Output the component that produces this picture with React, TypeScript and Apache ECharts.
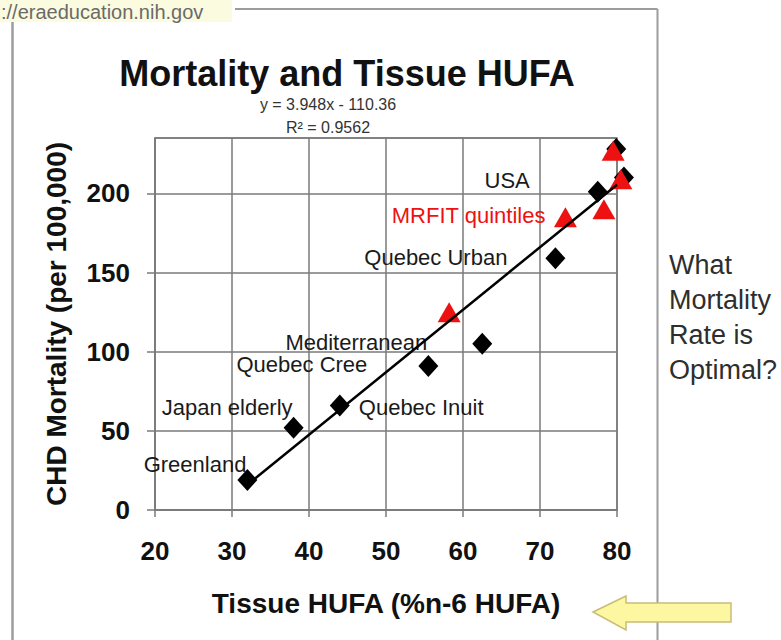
import React, { useEffect, useRef } from "react";
import * as echarts from "echarts";

// ---------- data ----------
const populationNames = [
  "Greenland",
  "Japan elderly",
  "Quebec Inuit",
  "Quebec Cree",
  "Mediterranean",
  "Quebec Urban",
  "USA",
  "",
  "",
];
const populationHufa = [32, 38, 44, 55.5, 62.5, 72, 77.5, 79.9, 80.9];
const populationMortality = [19, 52, 66, 91, 105, 159, 201, 228, 210];

const mrfitNames = ["", "MRFIT quintiles", "", "", ""];
const mrfitHufa = [58.2, 73.3, 78.3, 79.5, 80.5];
const mrfitMortality = [125, 185, 190, 227, 209];

// trend line y = 3.948x - 110.36 drawn between the data's HUFA extremes
const trendHufa = [32, 80];
const trendMortality = [16, 205.5];

const xTicks = [20, 30, 40, 50, 60, 70, 80];
const yTicks = [0, 50, 100, 150, 200];
const yAxisTop = 235;

const titleText = "Mortality and Tissue HUFA";
const equationText = "y = 3.948x - 110.36";
const r2Text = "R\u00B2 = 0.9562";
const xAxisTitle = "Tissue HUFA (%n-6 HUFA)";
const yAxisTitle = "CHD Mortality (per 100,000)";
const sideQuestion = "What\nMortality\nRate is\nOptimal?";
const sourceUrl = "://eraeducation.nih.gov";

// ---------- label placement (styles, not data) ----------
const LABEL_LAYOUT: Record<string, { align: string; dx: number; dy: number }> = {
  Greenland: { align: "right", dx: -1, dy: -15 },
  "Japan elderly": { align: "right", dx: -1, dy: -20 },
  "Quebec Inuit": { align: "left", dx: 19, dy: 2 },
  "Quebec Cree": { align: "right", dx: -61, dy: -1 },
  Mediterranean: { align: "right", dx: -55, dy: -1 },
  "Quebec Urban": { align: "right", dx: -48, dy: -1 },
  USA: { align: "right", dx: -68, dy: -11 },
  "MRFIT quintiles": { align: "right", dx: -20, dy: -2 },
};

const FONT = "'Liberation Sans', Arial, Helvetica, sans-serif";
const GRID_COLOR = "#7a7a7a";
const RED = "#ee1111";

function pointItem(name: string, x: number, y: number, color: string) {
  const lay = LABEL_LAYOUT[name];
  return {
    name,
    value: [x, y],
    label: lay
      ? {
          show: true,
          position: "inside",
          align: lay.align,
          verticalAlign: "middle",
          offset: [lay.dx, lay.dy],
          formatter: name,
          color,
          fontSize: 22,
          fontFamily: FONT,
        }
      : { show: false },
  };
}

export default function App() {
  const ref = useRef<HTMLDivElement>(null);

  useEffect(() => {
    if (!ref.current) return;
    const chart = echarts.init(ref.current, undefined, { renderer: "svg" });

    const diamonds = populationNames.map((n, i) =>
      pointItem(n, populationHufa[i], populationMortality[i], "#1a1a1a")
    );
    const triangles = mrfitNames.map((n, i) =>
      pointItem(n, mrfitHufa[i], mrfitMortality[i], RED)
    );
    const trend = trendHufa.map((x, i) => [x, trendMortality[i]]);

    const bold = {
      fontFamily: FONT,
      fontWeight: "bold",
      color: "#111111",
    };

    chart.setOption({
      animation: false,
      backgroundColor: "#ffffff",
      title: {
        text: titleText,
        left: 347,
        top: 58,
        textAlign: "center",
        padding: 0,
        textStyle: { ...bold, fontSize: 36, lineHeight: 30 },
      },
      grid: {
        left: 155,
        right: 164,
        top: 138,
        bottom: 130,
        show: true,
        borderColor: GRID_COLOR,
        borderWidth: 1.5,
        backgroundColor: "transparent",
      },
      xAxis: {
        type: "value",
        min: xTicks[0],
        max: xTicks[xTicks.length - 1],
        interval: xTicks[1] - xTicks[0],
        name: xAxisTitle,
        nameLocation: "middle",
        nameGap: 79,
        nameTextStyle: { ...bold, fontSize: 28 },
        axisLine: { show: true, lineStyle: { color: GRID_COLOR, width: 1.5 } },
        axisTick: {
          show: true,
          length: 7,
          inside: false,
          lineStyle: { color: GRID_COLOR, width: 1.5 },
        },
        splitLine: { show: true, lineStyle: { color: GRID_COLOR, width: 1.5 } },
        axisLabel: { ...bold, margin: 28, fontSize: 26 },
      },
      yAxis: {
        type: "value",
        min: yTicks[0],
        max: yAxisTop,
        interval: yTicks[1] - yTicks[0],
        name: yAxisTitle,
        nameLocation: "middle",
        nameRotate: 90,
        nameGap: 85,
        nameTextStyle: { ...bold, fontSize: 28 },
        axisLine: { show: true, lineStyle: { color: GRID_COLOR, width: 1.5 } },
        axisTick: {
          show: true,
          length: 8,
          inside: false,
          lineStyle: { color: GRID_COLOR, width: 1.5 },
        },
        splitLine: { show: true, lineStyle: { color: GRID_COLOR, width: 1.5 } },
        axisLabel: {
          ...bold,
          margin: 25,
          showMaxLabel: false,
          formatter: (v: number) => (yTicks.indexOf(v) >= 0 ? String(v) : ""),
          fontSize: 26,
        },
      },
      series: [
        {
          type: "scatter",
          name: "Populations",
          symbol: "diamond",
          symbolSize: [20, 22],
          clip: false,
          z: 2,
          itemStyle: { color: "#000000", opacity: 1 },
          data: diamonds,
        },
        {
          type: "scatter",
          name: "MRFIT quintiles",
          symbol: "triangle",
          symbolSize: [23, 20],
          clip: false,
          z: 3,
          itemStyle: { color: RED, opacity: 1 },
          data: triangles,
        },
        {
          type: "line",
          name: "Trend",
          data: trend,
          symbol: "none",
          z: 4,
          lineStyle: { color: "#000000", width: 2.5 },
        },
      ],
      graphic: [
        // outer slide frame
        {
          type: "line",
          z: 1,
          shape: { x1: 12.5, y1: 20, x2: 12.5, y2: 640 },
          style: { stroke: "#9c9c9c", lineWidth: 2.5 },
        },
        {
          type: "line",
          z: 1,
          shape: { x1: 235, y1: 9, x2: 657.5, y2: 9 },
          style: { stroke: "#9c9c9c", lineWidth: 2 },
        },
        {
          type: "line",
          z: 1,
          shape: { x1: 657.5, y1: 9, x2: 657.5, y2: 640 },
          style: { stroke: "#9c9c9c", lineWidth: 2 },
        },
        // source tag
        {
          type: "rect",
          z: 2,
          shape: { x: 0, y: 0, width: 232, height: 22 },
          style: { fill: "#fbfbe0" },
        },
        {
          type: "text",
          z: 3,
          x: 1,
          y: 11.6,
          style: {
            text: sourceUrl,
            align: "left",
            verticalAlign: "middle",
            fontFamily: FONT,
            fontSize: 20,
            fill: "#6a6a6a",
          },
        },
        // regression equation
        {
          type: "text",
          x: 328,
          y: 104,
          style: {
            text: equationText,
            align: "center",
            verticalAlign: "middle",
            fontFamily: FONT,
            fontSize: 16,
            fill: "#333333",
          },
        },
        {
          type: "text",
          x: 328,
          y: 127,
          style: {
            text: r2Text,
            align: "center",
            verticalAlign: "middle",
            fontFamily: FONT,
            fontSize: 16,
            fill: "#333333",
          },
        },
        // side question
        {
          type: "text",
          x: 669,
          y: 247,
          style: {
            text: sideQuestion,
            align: "left",
            verticalAlign: "top",
            lineHeight: 35,
            fontFamily: FONT,
            fontSize: 27,
            fill: "#2e2e2e",
          },
        },
        // yellow arrow
        {
          type: "polygon",
          z: 5,
          shape: {
            points: [
              [593, 612],
              [626, 596],
              [626, 603],
              [731, 603],
              [731, 622],
              [626, 622],
              [626, 630],
            ],
          },
          style: { fill: "#fcf7a0", stroke: "#c8bd78", lineWidth: 1.5 },
        },
      ],
    });

    return () => chart.dispose();
  }, []);

  return (
    <div
      ref={ref}
      style={{ position: "absolute", left: 0, top: 0, width: 781, height: 640 }}
    />
  );
}
